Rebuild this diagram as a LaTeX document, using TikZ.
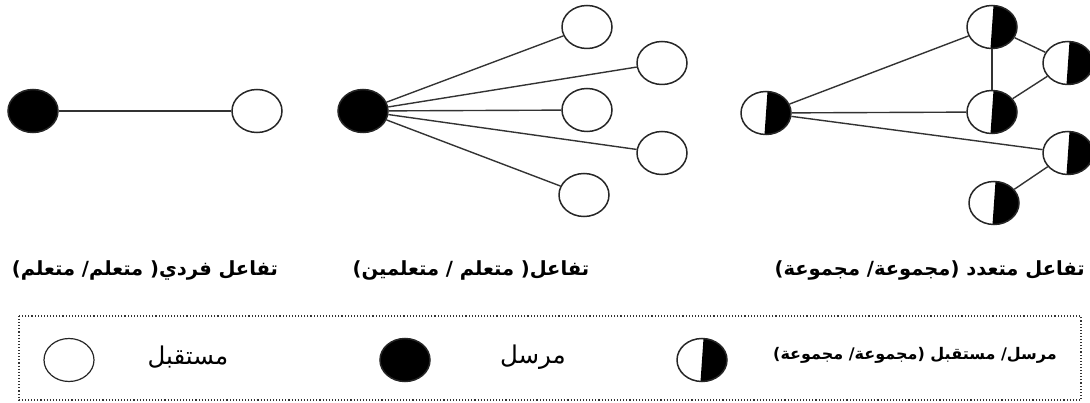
\documentclass[tikz,border=0pt]{standalone}
\usepackage{fontspec}
\usetikzlibrary{shapes.geometric}
\TeXXeTstate=1
\newfontfamily\arabicfont[Script=Arabic]{DejaVu Sans}
\newfontfamily\arabicbold[Script=Arabic]{DejaVu Sans Bold}
\begin{document}
\begin{tikzpicture}[x=1pt,y=-1pt,
  person/.style={ellipse,draw=black!85,line width=1.5pt,minimum width=50pt,minimum height=43pt,inner sep=0pt},
  receiver/.style={person,fill=white},
  sender/.style={person,fill=black},
  both/.style={person,fill=white,path picture={\fill[black]
      ([xshift=1.5pt]path picture bounding box.north) -- (path picture bounding box.north east)
      -- (path picture bounding box.south east) -- ([xshift=-1.5pt]path picture bounding box.south) -- cycle;}},
  link/.style={draw=black!80,line width=1.4pt},
  caption/.style={font=\arabicbold\fontsize{19.5}{23}\selectfont,inner sep=0pt},
  keytext/.style={font=\arabicfont\fontsize{24.5}{28}\selectfont,inner sep=0pt},
  keysmall/.style={font=\arabicbold\fontsize{16}{19}\selectfont,inner sep=0pt}]
\useasboundingbox (0,0) rectangle (1090,403);

% one sender, one receiver
\node[sender]   (m1) at (33,111) {};
\node[receiver] (r1) at (257,111) {};
\draw[link] (m1) -- (r1);

% one sender, several receivers
\node[sender]   (s2) at (363,111) {};
\node[receiver] (ra) at (587,27) {};
\node[receiver] (rb) at (662,63) {};
\node[receiver] (rc) at (587,110) {};
\node[receiver] (rd) at (662,153) {};
\node[receiver] (re) at (584,195) {};
\foreach \t in {ra,rb,rc,rd,re} \draw[link] (s2) -- (\t);

% groups that both send and receive
\node[both] (g0) at (766,113) {};
\node[both] (g1) at (992,27) {};
\node[both] (g2) at (1068,63) {};
\node[both] (g3) at (992,112) {};
\node[both] (g4) at (1068,153) {};
\node[both] (g5) at (994,203) {};
\draw[link] (g0) -- (g1);
\draw[link] (g0) -- (g3);
\draw[link] (g0) -- (g4);
\draw[link] (g1) -- (g3);
\draw[link] (g1) -- (g2);
\draw[link] (g3) -- (g2);
\draw[link] (g4) -- (g5);

% captions
\node[caption] (c1) at (145,270) {\beginR تفاعل فردي( متعلم/ متعلم)\endR};
\node[caption] (c2) at (471,270) {\beginR تفاعل( متعلم / متعلمين)\endR};
\node[caption,anchor=east] (c3) at (1085,270) {\beginR تفاعل متعدد (مجموعة/ مجموعة)\endR};

% key
\draw[black!80,line width=1.1pt,dotted] (19,316) rectangle (1081,400);
\node[receiver,line width=1.2pt] (k1) at (69,360) {};
\node[keytext] (t1) at (188,357) {\beginR مستقبل\endR};
\node[sender] (k2) at (405,360) {};
\node[keytext] (t2) at (533,357) {\beginR مرسل\endR};
\node[both] (k3) at (702,360) {};
\node[keysmall] (t3) at (915,355) {\beginR مرسل/ مستقبل (مجموعة/ مجموعة)\endR};
\end{tikzpicture}
\end{document}
